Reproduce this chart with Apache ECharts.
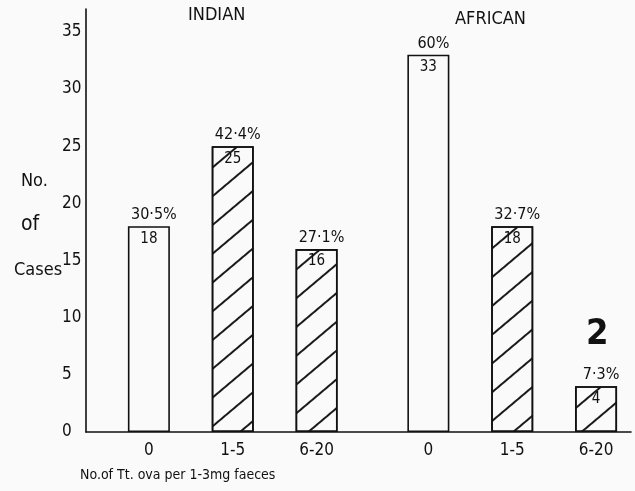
<!DOCTYPE html>
<html>
<head>
<meta charset="utf-8">
<script src="https://cdn.jsdelivr.net/npm/echarts@6/dist/echarts.min.js"></script>
<style>
html,body{margin:0;padding:0;background:#fafafa;}
#c{width:635px;height:491px;}
</style>
</head>
<body>
<div id="c"></div>
<script>
// ---- data ----
const categories = ['0', '1-5', '6-20'];
const groups = ['INDIAN', 'AFRICAN'];
const indianCases = [18, 25, 16];
const africanCases = [33, 18, 4];
const indianPct = ['30·5%', '42·4%', '27·1%'];
const africanPct = ['60%', '32·7%', '7·3%'];
const hatched = [false, true, true];
const yTicks = [0, 5, 10, 15, 20, 25, 30, 35];

const FONT = '"DejaVu Sans Condensed", "Liberation Sans Narrow", "DejaVu Sans", sans-serif';

// ---- layout of category slots (fine slots to allow a wider gap between groups) ----
const SLOTS = 39;
function slotOf(g, i) { return 4 + i * 6 + g * 20; }

const axisCats = [];
for (let k = 0; k < SLOTS; k++) axisCats.push('s' + k);
const slotLabel = {};
[0, 1].forEach(g => categories.forEach((c, i) => { slotLabel[slotOf(g, i)] = c; }));

const hatchDecal = {
  symbol: 'rect', symbolSize: 1,
  dashArrayX: [1, 0], dashArrayY: [1.4, 20],
  rotation: -0.7, color: '#1a1a1a'
};

function buildSeries(vals, pcts, g) {
  const bars = new Array(SLOTS).fill(null);
  const tops = new Array(SLOTS).fill(null);
  vals.forEach((v, i) => {
    const s = slotOf(g, i);
    bars[s] = {
      value: v,
      itemStyle: hatched[i]
        ? { color: '#fafafa', borderColor: '#111', borderWidth: 1.6, decal: hatchDecal }
        : { color: '#fafafa', borderColor: '#111', borderWidth: 1.6 }
    };
    tops[s] = { value: v, pct: pcts[i] };
  });
  return [
    {
      type: 'bar', barWidth: 42, barGap: '-100%', data: bars, z: 2,
      label: { show: true, position: 'insideTop', distance: 5, color: '#111',
        fontFamily: FONT, fontSize: 15, formatter: p => p.value }
    },
    {
      type: 'bar', barWidth: 42, barGap: '-100%', z: 3, silent: true,
      itemStyle: { color: 'rgba(0,0,0,0)' },
      data: tops,
      label: { show: true, position: 'top', distance: 3, offset: [5, 0], color: '#111',
        fontFamily: FONT, fontSize: 16, formatter: p => p.data.pct }
    }
  ];
}

const chart = echarts.init(document.getElementById('c'), null, { renderer: 'canvas' });
chart.setOption({
  animation: false,
  backgroundColor: '#fafafa',
  grid: { left: 86, right: 4, top: 9, bottom: 59, containLabel: false },
  xAxis: {
    type: 'category', data: axisCats, boundaryGap: true,
    axisLine: { lineStyle: { color: '#111', width: 1.6 } },
    axisTick: { show: false },
    axisLabel: {
      interval: 0, margin: 10, color: '#111', fontFamily: FONT, fontSize: 17,
      formatter: (v, idx) => slotLabel[idx] || ''
    },
    splitLine: { show: false }
  },
  yAxis: {
    type: 'value', min: 0, max: 37, interval: 5,
    axisLine: { show: true, lineStyle: { color: '#111', width: 1.6 } },
    axisTick: { show: false },
    splitLine: { show: false },
    axisLabel: { showMaxLabel: false, margin: 24, align: 'left', color: '#111', fontFamily: FONT, fontSize: 17,
      formatter: v => yTicks.includes(v) ? String(v) : '' }
  },
  graphic: [
    { type: 'text', left: 188, top: 6, style: { text: groups[0], fill: '#111', font: '18px ' + FONT } },
    { type: 'text', left: 455, top: 10, style: { text: groups[1], fill: '#111', font: '18px ' + FONT } },
    { type: 'text', left: 21, top: 172, style: { text: 'No.', fill: '#111', font: '18px ' + FONT } },
    { type: 'text', left: 21, top: 214, style: { text: 'of', fill: '#111', font: '21px ' + FONT } },
    { type: 'text', left: 14, top: 261, style: { text: 'Cases', fill: '#111', font: '18px ' + FONT } },
    { type: 'text', left: 586, top: 317, style: { text: '2', fill: '#111', font: 'bold 36px ' + FONT } },
    { type: 'text', left: 80, top: 468, style: { text: 'No.of Tt. ova per 1-3mg faeces', fill: '#111', font: '14px ' + FONT } }
  ],
  series: [].concat(buildSeries(indianCases, indianPct, 0), buildSeries(africanCases, africanPct, 1))
});
</script>
</body>
</html>
